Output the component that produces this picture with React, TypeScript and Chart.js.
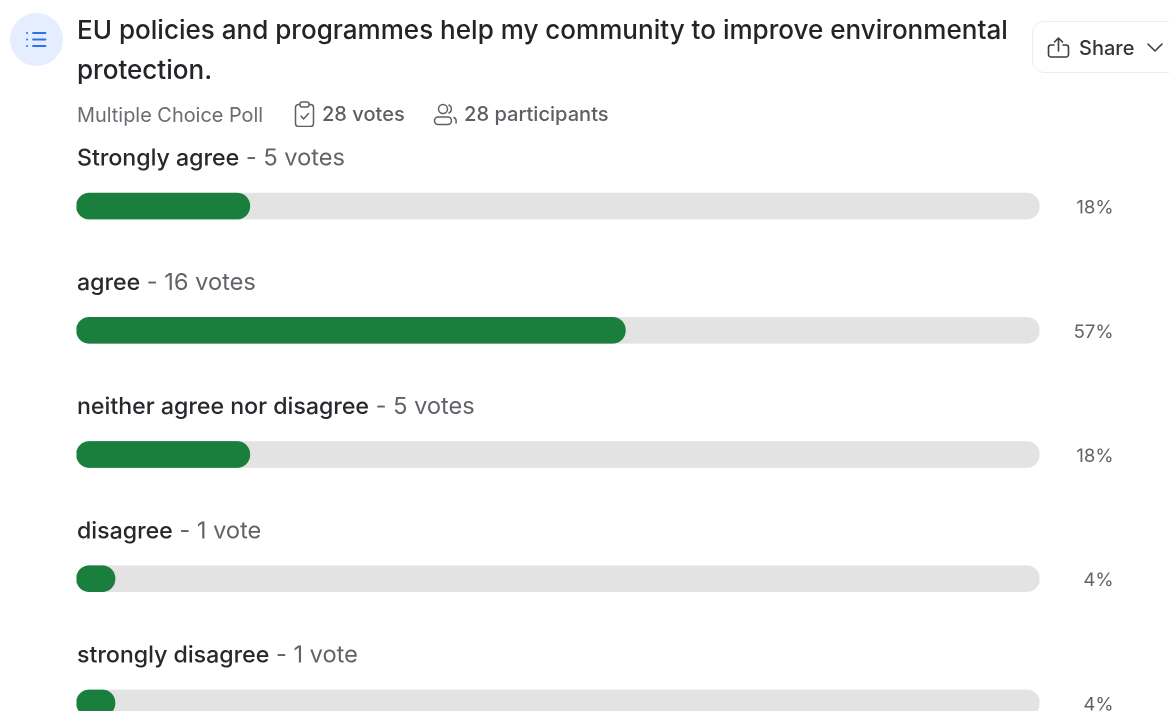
import React, { useEffect, useRef } from "react";
import { Chart, registerables } from "chart.js";

Chart.register(...registerables);

const categories = ["Strongly agree", "agree", "neither agree nor disagree", "disagree", "strongly disagree"];
const voteLabels = ["5 votes", "16 votes", "5 votes", "1 vote", "1 vote"];
const percents = [18, 57, 18, 4, 4];
const track = [100, 100, 100, 100, 100];

const FONT = "Inter, 'Noto Sans', sans-serif";

const textPlugin = {
  id: "pollText",
  afterDatasetsDraw(chart: any) {
    const { ctx, scales } = chart;
    ctx.save();
    ctx.textBaseline = "alphabetic";
    categories.forEach((name, i) => {
      const y = scales.y.getPixelForValue(i);
      ctx.font = `500 23.15px ${FONT}`;
      ctx.fillStyle = "#26282c";
      ctx.textAlign = "left";
      const x0 = 77;
      const ly = y - 40.4;
      ctx.fillText(name, x0, ly);
      const w = ctx.measureText(name).width;
      ctx.font = `400 23.6px ${FONT}`;
      ctx.fillStyle = "#5f6267";
      ctx.fillText(` - ${voteLabels[i]}`, x0 + w, ly);
      ctx.font = `400 18.5px ${FONT}`;
      ctx.textAlign = "right";
      ctx.fillText(`${percents[i]}%`, 1113.5, y + 7.5);
    });
    ctx.restore();
  },
};

export default function App() {
  const ref = useRef<HTMLCanvasElement>(null);
  useEffect(() => {
    document.body.style.margin = "0";
    document.body.style.overflow = "hidden";
    document.body.style.background = "#fff";
    const chart = new Chart(ref.current!, {
      type: "bar",
      data: {
        labels: categories,
        datasets: [
          { label: "Share", data: percents, backgroundColor: "#1a7f3c", order: 1, grouped: false, barThickness: 26, borderRadius: 13, borderSkipped: false },
          { label: "Track", data: track, backgroundColor: "#e3e3e3", order: 2, grouped: false, barThickness: 26, borderRadius: 13, borderSkipped: false },
        ],
      } as any,
      options: {
        indexAxis: "y",
        animation: false,
        responsive: false,
        devicePixelRatio: 2,
        layout: { padding: { left: 76.5, right: 129.5, top: 144, bottom: 35 } },
        plugins: { legend: { display: false }, tooltip: { enabled: false }, title: { display: false } },
        scales: {
          x: { display: false, min: 0, max: 100 },
          y: { display: false },
        },
      } as any,
      plugins: [textPlugin],
    });
    return () => chart.destroy();
  }, []);

  const abs = (s: React.CSSProperties): React.CSSProperties => ({ position: "absolute", whiteSpace: "nowrap", fontFamily: FONT, ...s });
  return (
    <div style={{ position: "fixed", left: 0, top: 0, width: 1169, height: 711, overflow: "hidden", background: "#fff", filter: "blur(0.35px)" }}>
      <canvas ref={ref} width={1169} height={800} style={{ position: "absolute", left: 0, top: 0, width: 1169, height: 800 }} />
      <div style={abs({ left: 10, top: 13, width: 53, height: 53, borderRadius: "50%", background: "#e5eeff" })} />
      <svg style={{ position: "absolute", left: 26, top: 31 }} width="21" height="17" viewBox="0 0 21 17" fill="none" stroke="#2f72f0" strokeWidth="1.8" strokeLinecap="round">
        <path d="M1 2h.2M1 8.500h.2M1 15h.2M7 2h12.500M7 8.500h12.500M7 15h12.500" />
      </svg>
      <div style={abs({ left: 77, top: 9.5, fontSize: 26.05, lineHeight: "40px", fontWeight: 500, color: "#222428" })}>
        EU policies and programmes help my community to improve environmental<br />protection.
      </div>
      <div style={abs({ left: 77, top: 102, fontSize: 19.9, lineHeight: "26px", color: "#696c71" })}>Multiple Choice Poll</div>
      <svg style={{ position: "absolute", left: 293, top: 101 }} width="23" height="26" viewBox="0 0 23 26" fill="none" stroke="#5c5f64" strokeWidth="1.5" strokeLinejoin="round" strokeLinecap="round">
        <rect x="2.500" y="3.500" width="18" height="22" rx="3" />
        <rect x="7" y="1" width="9" height="5" rx="2" fill="#fff" />
        <path d="M8 15l2.500 3 5-5.500" />
      </svg>
      <div style={abs({ left: 322, top: 100.5, fontSize: 20.05, lineHeight: "26px", fontWeight: 500, color: "#5c5f64" })}>28 votes</div>
      <svg style={{ position: "absolute", left: 433, top: 103 }} width="25" height="23" viewBox="0 0 25 23" fill="none" stroke="#5c5f64" strokeWidth="1.5" strokeLinecap="round">
        <circle cx="10" cy="6" r="4.500" />
        <rect x="1.500" y="14" width="17" height="7.500" rx="3.700" />
        <path d="M16 2a4.500 4.500 0 0 1 0 8M21 14.500c2 1 2.500 3 2 5.500" />
      </svg>
      <div style={abs({ left: 464, top: 100.5, fontSize: 20.1, lineHeight: "26px", fontWeight: 500, color: "#5c5f64" })}>28 participants</div>
      <div style={abs({ left: 1032, top: 21, width: 160, height: 52, border: "1px solid #ececec", borderRadius: 12, boxSizing: "border-box" })} />
      <svg style={{ position: "absolute", left: 1047, top: 36 }} width="24" height="24" viewBox="0 0 24 24" fill="none" stroke="#3c3e42" strokeWidth="1.6" strokeLinecap="round" strokeLinejoin="round">
        <path d="M7 9H4a2.500 2.500 0 0 0-2.500 2.500v7A2.500 2.500 0 0 0 4 21h15a2.500 2.500 0 0 0 2.500-2.500v-7A2.500 2.500 0 0 0 19 9h-3" />
        <path d="M11.500 15V2M7.500 6l4-4 4 4" />
      </svg>
      <div style={abs({ left: 1079, top: 35, fontSize: 20, lineHeight: "26px", fontWeight: 500, color: "#33353a" })}>Share</div>
      <svg style={{ position: "absolute", left: 1146, top: 42 }} width="18" height="11" viewBox="0 0 18 11" fill="none" stroke="#3c3e42" strokeWidth="1.6" strokeLinecap="round" strokeLinejoin="round">
        <path d="M2 2l7 7 7-7" />
      </svg>
    </div>
  );
}
